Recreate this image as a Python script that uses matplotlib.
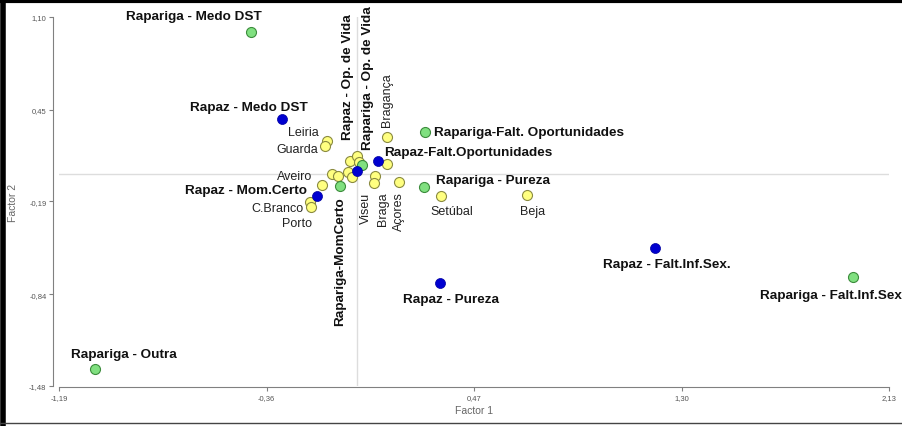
import matplotlib.pyplot as plt
from matplotlib.lines import Line2D

plt.rcParams['font.family'] = ['Liberation Sans', 'DejaVu Sans']

# Rapariga (green)
girl_labels = ['Rapariga - Medo DST', 'Rapariga-Falt. Oportunidades', 'Rapariga - Pureza',
               'Rapariga-MomCerto', 'Rapariga - Op. de Vida', 'Rapariga - Falt.Inf.Sex',
               'Rapariga - Outra']
girl_x = [-0.422, 0.274, 0.270, -0.066, 0.023, 1.986, -1.046]
girl_y = [0.995, 0.296, -0.089, -0.084, 0.065, -0.718, -1.362]

# Rapaz (blue)
boy_labels = ['Rapaz - Medo DST', 'Rapaz-Falt.Oportunidades', 'Rapaz - Mom.Certo',
              'Rapaz - Op. de Vida', 'Rapaz - Pureza', 'Rapaz - Falt.Inf.Sex.']
boy_x = [-0.298, 0.087, -0.159, 0.003, 0.334, 1.194]
boy_y = [0.387, 0.095, -0.154, 0.025, -0.760, -0.515]

# districts (yellow), '' = no label
dist_labels = ['Leiria', 'Guarda', 'Bragança', '', '', '', '', '', '', '', '',
               'Aveiro', 'C.Branco', 'Porto', 'Braga', 'Viseu', 'Açores', 'Setúbal', 'Beja']
dist_x = [-0.119, -0.126, 0.123, -0.026, 0.003, 0.011, 0.123, -0.033, -0.019, -0.099, -0.073,
          -0.139, -0.186, -0.183, 0.074, 0.070, 0.169, 0.337, 0.681]
dist_y = [0.235, 0.200, 0.259, 0.095, 0.126, 0.084, 0.072, 0.014, -0.021, 0.002, -0.010,
          -0.075, -0.196, -0.231, -0.010, -0.061, -0.052, -0.154, -0.145]

xticks = [-1.19, -0.36, 0.47, 1.30, 2.13]
yticks = [-1.48, -0.84, -0.19, 0.45, 1.10]

# label placement: (dx px, dy px, ha, va, rotation)
girl_pos = [(-57, 16, 'center', 'center', 0), (9, 0, 'left', 'center', 0),
            (12, 7, 'left', 'center', 0), (0, -10, 'center', 'top', 90),
            (6, 16, 'center', 'bottom', 90), (-22, -18, 'center', 'center', 0),
            (29, 15, 'center', 'center', 0)]
boy_pos = [(-33, 12, 'center', 'center', 0), (6, 9, 'left', 'center', 0),
           (-10, 6, 'right', 'center', 0), (-9, 32, 'center', 'bottom', 90),
           (11, -16, 'center', 'center', 0), (12, -16, 'center', 'center', 0)]
dist_pos = [(-8, 9, 'right', 'center', 0), (-7, -3, 'right', 'center', 0),
            (0, 11, 'center', 'bottom', 90)] + [(0, 0, 'center', 'center', 0)] * 8 + \
           [(-10, 9, 'right', 'center', 0), (-7, -6, 'right', 'center', 0),
            (-14, -16, 'center', 'center', 0), (8, -16, 'center', 'top', 90),
            (-8, -9, 'center', 'top', 90), (0, -9, 'center', 'top', 90),
            (11, -15, 'center', 'center', 0), (6, -16, 'center', 'center', 0)]

fig = plt.figure(figsize=(9.02, 4.27), dpi=100)
ax = fig.add_axes([0.0654, 0.0937, 0.9203, 0.8642])
ax.set_xlim(-1.19, 2.13)
ax.set_ylim(-1.48, 1.10)

ax.axhline(0, color='#dddddd', lw=1, zorder=0)
ax.axvline(0, color='#dddddd', lw=1, zorder=0)

ax.scatter(dist_x, dist_y, s=52, c='#ffff80', edgecolors='#8a8a40', linewidths=0.8, zorder=3)
ax.scatter(girl_x, girl_y, s=52, c='#80e080', edgecolors='#3c8c3c', linewidths=0.8, zorder=4)
ax.scatter(boy_x, boy_y, s=52, c='#0000d0', edgecolors='#0000a0', linewidths=0.5, zorder=5)

for lab, x, y, (dx, dy, ha, va, rot) in zip(girl_labels + boy_labels, girl_x + boy_x,
                                            girl_y + boy_y, girl_pos + boy_pos):
    ax.annotate(lab, (x, y), xytext=(dx, dy), textcoords='offset pixels', ha=ha, va=va,
                rotation=rot, fontsize=9.7, fontweight='bold', color='#111111', zorder=6)
for lab, x, y, (dx, dy, ha, va, rot) in zip(dist_labels, dist_x, dist_y, dist_pos):
    if lab:
        ax.annotate(lab, (x, y), xytext=(dx, dy), textcoords='offset pixels', ha=ha, va=va,
                    rotation=rot, fontsize=9, color='#222222', zorder=6)

for s in ['top', 'right']:
    ax.spines[s].set_visible(False)
ax.spines['left'].set_position(('outward', 4))
ax.spines['bottom'].set_position(('outward', 1))
for s in ['left', 'bottom']:
    ax.spines[s].set_color('#808080')
ax.set_xticks(xticks)
ax.set_yticks(yticks)
ax.set_xticklabels([f'{v:.2f}'.replace('.', ',') for v in xticks])
ax.set_yticklabels([f'{v:.2f}'.replace('.', ',') for v in yticks])
ax.tick_params(labelsize=5.5, labelcolor='#555555', color='#808080', length=3, pad=2)
ax.set_xlabel('Factor 1', fontsize=7.5, color='#666666', labelpad=3)
ax.set_ylabel('Factor 2', fontsize=7.5, color='#666666', labelpad=8)

# frame around the picture
fig.add_artist(Line2D([0, 1], [0.995, 0.995], transform=fig.transFigure, color='black', lw=3))
fig.add_artist(Line2D([0.003, 0.003], [0, 1], transform=fig.transFigure, color='black', lw=4))
fig.add_artist(Line2D([0, 1], [0.006, 0.006], transform=fig.transFigure, color='#444444', lw=1))

fig.savefig('out.png', dpi=100)
